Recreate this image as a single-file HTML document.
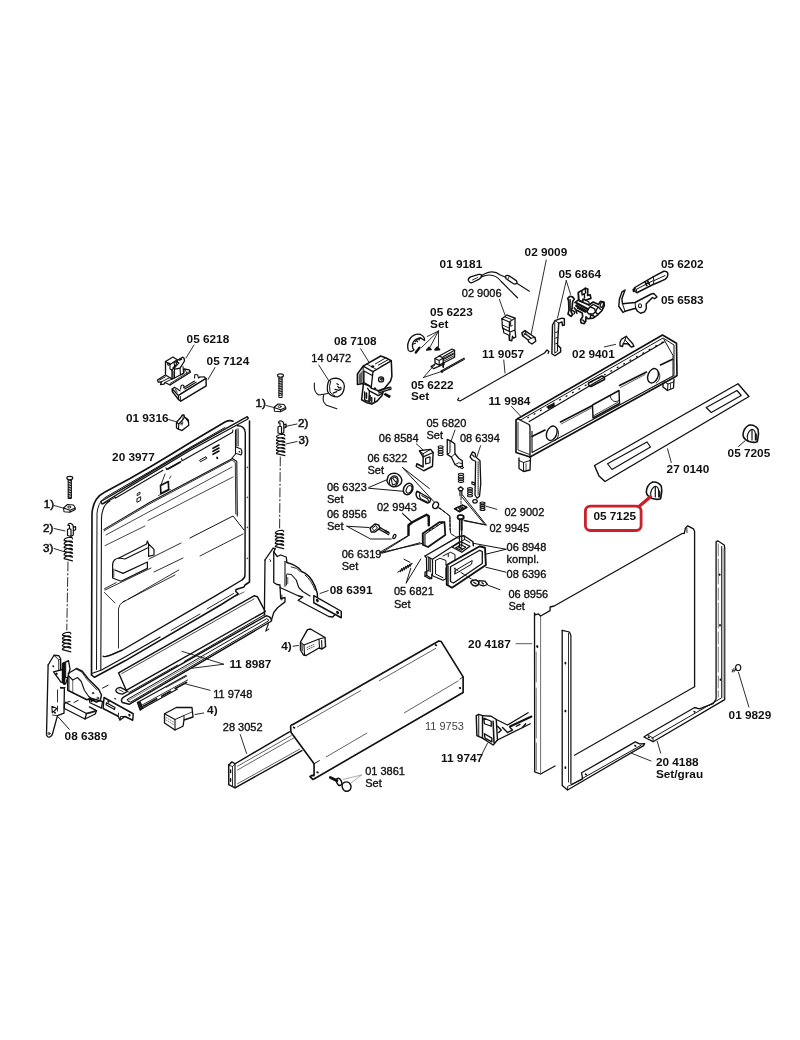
<!DOCTYPE html>
<html><head><meta charset="utf-8"><title>Explosionszeichnung</title>
<style>
html,body{margin:0;padding:0;background:#fff;}
body{width:800px;height:1040px;overflow:hidden;}
svg{display:block;will-change:transform;}
svg text{font-family:"Liberation Sans",sans-serif;fill:#111;}
svg text.r{stroke:#111;stroke-width:0.35px;}
svg text.m{stroke:#111;stroke-width:0.55px;font-size:11.6px;}
svg text.g{fill:#444;}
.d path,.d line,.d circle,.d ellipse,.d rect,.d polyline{fill:none;stroke:#111;stroke-linecap:round;stroke-linejoin:round;}
</style></head><body>
<svg width="800" height="1040" viewBox="0 0 800 1040">
<rect width="800" height="1040" fill="#fff" stroke="none"/>
<g class="d">
<g transform="translate(0 0) scale(1.00000)">
<path d="M91.5,675 L92,514 C92.5,503 97,496 105,492 L130,478.5 L150,467 L170,455 L190,442.8 L225,422 C228,420.5 231,420.3 233,421.2" stroke-width="1.65"/>
<path d="M237.2,425.8 C241.5,425.5 245.4,428 245.3,433 L245,574.5 C245,578 244,579 242,580 L215,596.2 L122.5,650 L112,654.5 C107,656.5 104,657 103.2,656.2" stroke-width="1.43"/>
<path d="M91.5,675 L94.5,677.3 L125,660.8 L220.5,605 L238.2,593.8 L235.8,591.5 L236,589.5 L244,587 L245,585 L249.5,582 L249.5,421" stroke-width="1.54"/>
<path d="M91.8,673.5 L101.5,670 L125,657 L160,637" stroke-width="1.32"/>
<path d="M171,630.5 L200,614" stroke-width="0.88"/>
<path d="M207,609 L233.5,593.5" stroke-width="0.88"/>
<path d="M96.5,669.5 L97,513 C98,504 102,499.5 106,497 L130,483 L150,471.5 L170,459.5 L190,447.5 L225,427.5" stroke-width="0.99"/>
<path d="M100.8,670 L101.5,518 C102,508 105,503.5 110,501" stroke-width="1.10"/>
<path d="M100.8,501.5 L102,504 L130,486.5 L190,450.5 L247,419.5 L248.4,418.3 L247.3,416.6 L190,448.6 L130,484.6 L100.8,501.5" stroke-width="1.32"/>
<path d="M114.5,496.3 L115.2,498.3 L163,470.3" stroke-width="1.10"/>
<path d="M103,504 L114,498" stroke-width="0.99"/>
<path d="M166,467.8 L166.6,469.6 L181,461.6" stroke-width="1.10"/>
<path d="M181.5,458.8 L182.2,460.8 L232.6,432.2 L232.8,430" stroke-width="1.10"/>
<path d="M168,469 L180,462.3" stroke-width="1.76"/>
<path d="M235.5,430 L235.5,454 L232,458" stroke-width="1.10"/>
<path d="M238.2,429 L238.2,446" stroke-width="0.88"/>
<path d="M236.8,429 L236.8,446" stroke-width="0.88"/>
<path d="M236,447 L241,449 Q242.8,452 241,455 L236.5,453.5 " stroke-width="1.10"/>
<path d="M239.2,451.5 l0.6,0.6" stroke-width="1.10"/>
<path d="M213,448.3 l6,-3.2 M213,451.3 l6,-3.2 M213,454.3 l6,-3.2" stroke-width="1.65"/>
<path d="M200,460 l6,-3.3 l0.8,1.6 l-6,3.3 z" stroke-width="0.99"/>
<path d="M217,457.5 l0.4,0.8" stroke-width="1.76"/>
<path d="M160.5,485.5 l7.8,-4 l0.4,8 l-7.8,4 z" stroke-width="1.65"/>
<path d="M158.5,495.5 l12,-6" stroke-width="0.77"/>
<path d="M165,474 l-4,11" stroke-width="0.88"/>
<path d="M171,476 l-1.4,2.4" stroke-width="0.77"/>
<path d="M137.5,493.5 l2.5,-1.4 l0,2 l-2.5,1.4 z" stroke-width="0.88"/>
<path d="M137.3,498.5 l3.4,-1.8 l0,3.6 l-3.4,1.8 z" stroke-width="0.99"/>
<path d="M104,529.4 L150,502.3 L232.5,458.5 L236.8,461.5 L237.3,516" stroke-width="1.10"/>
<path d="M104,530.8 L150,503.7 L232,460 L235.3,462.5 L235.8,514" stroke-width="0.88"/>
<path d="M105,545.6 L145,526" stroke-width="0.77"/>
<path d="M148,520.5 L233,477" stroke-width="0.77"/>
<path d="M190,538 L233,516 L244,530" stroke-width="0.99"/>
<path d="M200,556 L243,534" stroke-width="0.88"/>
<path d="M149,559 L181,543" stroke-width="0.88"/>
<path d="M154,572 L183,558" stroke-width="0.88"/>
<path d="M105,590 L151,568" stroke-width="0.88"/>
<path d="M123,602 L175,575" stroke-width="0.88"/>
<path d="M104.4,588.8 L116.2,582.5" stroke-width="0.88"/>
<path d="M104.4,592.5 L115,603" stroke-width="0.88"/>
<path d="M118.5,648 L118.5,609 Q119,604 123,602 L125.6,600.6" stroke-width="0.88"/>
<path d="M128,599.3 L178.8,570" stroke-width="0.88"/>
<path d="M106,535 L232,467" stroke-width="0.77"/>
<path d="M236,596 L244,592" stroke-width="0.66"/>
<path d="M112.6,565 L112.6,578 L121,581.2 L147.4,568.4 L147.4,562 L123,573.4 L115,570" stroke-width="1.21"/>
<path d="M112.6,565 C113,560 115,559 119,558 L125,559 L147.4,548" stroke-width="1.21"/>
<path d="M119,558 L146.6,544 L147.4,541 L148.6,544 L154,549.4 L154,555 L148.6,556.4 L148.6,544" stroke-width="1.21"/>
<path d="M113.8,569 L113.8,577" stroke-width="0.77"/>
<path d="M247.3,467 l0,0.6 M247.3,497 l0,0.6 M247.3,527 l0,0.6 M247.3,558 l0,0.6" stroke-width="1.10"/>
</g>
<g transform="translate(0 0) scale(1.00000)">
<path d="M534.5,613.2 L534.7,771.8 L540.6,774 L555,766" stroke-width="1.32"/>
<path d="M540.6,616 L540.6,774" stroke-width="0.77" style="stroke:#444"/>
<path d="M534.5,613.2 L535.2,614.8 L538.4,613.9 L540.6,616 L550.1,610.6 L550.1,607 L554.2,606 L681.7,533.7 L684.3,533.4" stroke-width="1.32"/>
<path d="M684.3,533.4 L685.4,528.1 L687.7,525.8 L693.5,528.8 L694.6,531.5 L694.6,686.5" stroke-width="1.32"/>
<path d="M686.8,528 L687,532.5" stroke-width="0.88"/>
<path d="M694.6,686.7 L574.5,755.2" stroke-width="1.10"/>
<path d="M536.2,652 L536.4,770" stroke-width="0.55" stroke-dasharray="30 6 50 5"/>
<path d="M537,646 l0.5,1" stroke-width="1.76"/>
</g>
<g transform="translate(0 0) scale(1.00000)">
<path d="M562.2,630.4 L562.2,785.6 L567.5,790 L643.6,745.6 L644.6,743.6 L639.6,743.9 L635.2,741.9 L581.6,772.8 L582.6,779 L571.5,784.6" stroke-width="1.32"/>
<path d="M562.2,630.4 L569.5,632 L570.9,635.5 L570.9,783.5" stroke-width="1.21"/>
<path d="M568.5,633 L568.5,782" stroke-width="0.88"/>
<path d="M571.5,784.6 L641.2,745.2" stroke-width="0.99"/>
<path d="M567.5,790 L567.6,786.5 L571.5,784.6" stroke-width="0.88"/>
<path d="M565.4,662.7 l0,0.8 M565.4,710.6 l0,0.8 M565.4,767.3 l0,0.8" stroke-width="1.87"/>
<path d="M585.6,774.2 l0.6,0.5 M635,745.5 l0.6,0.5" stroke-width="1.65"/>
<path d="M631.5,753.2 L651,761" stroke-width="0.88"/>
</g>
<g transform="translate(0 0) scale(1.00000)">
<path d="M716.1,541.9 L716.1,699 L713.1,703.6 L699.3,708.9 L694.7,707.5 L647.3,734.7 L643.9,737 L653.1,741.7 L724.7,699.6 L724.7,547.8 L724.2,545 L717.7,540.8 L716.1,541.9" stroke-width="1.32"/>
<path d="M721.7,546.5 L721.7,697.8 L651.9,738.3" stroke-width="0.99"/>
<path d="M718.3,544 L718.3,697" stroke-width="0.55" stroke-dasharray="12 3 25 4"/>
<path d="M723.2,549 L723.2,697" stroke-width="2.20" style="stroke:#b5b5b5"/>
<path d="M653.1,741.7 L653,738 L647.3,734.7" stroke-width="0.88"/>
<path d="M719.6,574.3 l0,0.6 M720,625 l0,0.6 M720.5,679.3 l0,0.6" stroke-width="1.76"/>
<path d="M694.2,711.6 l0.5,0.4 M648.5,737 l0.5,0.4" stroke-width="1.65"/>
<path d="M657.2,741.2 L660.7,753.2" stroke-width="0.88"/>
<path d="M738.5,672.4 L748.9,707" stroke-width="0.88"/>
</g>
<ellipse cx="738.2" cy="667.6" rx="2.6" ry="3.1" stroke-width="1.1"/><path d="M736.5,669 l-4.5,2.6 M735,668 l0.8,2.6 M733.6,668.8 l0.8,2.6 M732.2,669.6 l0.8,2.6" stroke-width="0.8"/>
<g transform="translate(505 320) scale(0.25000)">
<path d="M44,400 L52,394 L630,60 L686,93 L688,222 L678,229 L100,548 L44,530 Z" stroke-width="6.60"/>
<path d="M97,406 L636,88" stroke-width="5.28"/>
<path d="M52,396 L96,418 Q101,424 100,432 L100,548" stroke-width="5.28"/>
<path d="M52,410 L52,520 L98,538" stroke-width="3.52"/>
<path d="M636,78 L672,142 L672,224" stroke-width="3.96"/>
<path d="M108,445 L108,530 L672,224" stroke-width="4.40"/>
<path d="M62,400 L632,72 L676,100 L676,222" stroke-width="3.96"/>
<path d="M108,466 L160,440" stroke-width="6.60"/>
<path d="M222,408 L348,343" stroke-width="6.60"/>
<path d="M458,262 L566,208" stroke-width="6.60"/>
<path d="M622,180 L670,157" stroke-width="6.60"/>
<path d="M225,416 L345,352" stroke-width="2.64"/>
<path d="M462,270 L560,218" stroke-width="2.64"/>
<path d="M350,340 L456,282 L458,334 L352,392 Z" stroke-width="5.72"/>
<path d="M420,302 C425,325 440,332 456,322" stroke-width="3.96"/>
<path d="M352,384 L450,330" stroke-width="3.08"/>
<path d="M334,252 L388,224 Q400,226 398,238 L344,266 Q332,264 334,252 Z" stroke-width="6.16"/>
<path d="M172,346 L194,336 L196,343 L174,353 Z" stroke-width="7.04"/>
<path d="M56,552 L56,594 L74,606 L100,600 L102,548" stroke-width="5.28"/>
<path d="M74,606 L74,570 L56,562" stroke-width="3.96"/>
<path d="M74,570 L100,562" stroke-width="3.96"/>
<path d="M84,575 L84,600" stroke-width="3.08"/>
<path d="M632,252 L632,268 L650,282 L674,272 L676,238" stroke-width="5.28"/>
<path d="M650,282 L652,256 L636,246" stroke-width="3.96"/>
<path d="M652,256 L674,248" stroke-width="3.96"/>
<path d="M662,255 L662,276" stroke-width="3.08"/>
<path d="M91.0,391.0 l3,-1.6 M116.6,376.7 l3,-1.6 M142.1,362.3 l3,-1.6 M167.7,348.0 l3,-1.6 M193.3,333.7 l3,-1.6 M218.9,319.3 l3,-1.6 M244.4,305.0 l3,-1.6 M270.0,290.7 l3,-1.6 M295.6,276.3 l3,-1.6 M321.1,262.0 l3,-1.6 M346.7,247.7 l3,-1.6 M372.3,233.3 l3,-1.6 M397.9,219.0 l3,-1.6 M423.4,204.7 l3,-1.6 M449.0,190.3 l3,-1.6 M474.6,176.0 l3,-1.6 M500.1,161.7 l3,-1.6 M525.7,147.3 l3,-1.6 M551.3,133.0 l3,-1.6 M576.9,118.7 l3,-1.6 M602.4,104.3 l3,-1.6 M628.0,90.0 l3,-1.6" stroke-width="5.28"/>
<ellipse cx="187" cy="453" rx="20" ry="30" stroke-width="5.6" transform="rotate(22 187 453)"/><path d="M206,432 C220,446 216,472 200,482" stroke-width="3.6"/>
<ellipse cx="592" cy="223" rx="20" ry="30" stroke-width="5.6" transform="rotate(22 592 223)"/><path d="M611,202 C625,216 621,242 605,252" stroke-width="3.6"/>
<path d="M26,346 L62,384" stroke-width="3.52"/>
</g>
<g transform="translate(585 370) scale(0.25000)">
<path d="M38,382 L612,55 L656,106 L80,446 L56,424 Z" stroke-width="5.72"/>
<path d="M55,418 L622,92" stroke-width="0.00"/>
<path d="M90,375 L248,288 L262,308 L108,398 Z" stroke-width="4.84"/>
<path d="M485,150 L608,82 L625,102 L505,170 Z" stroke-width="4.84"/>
<path d="M330,315 L345,370" stroke-width="3.52"/>
</g>
<g transform="translate(220 630) scale(0.31250)">
<path d="M232,303 L700,35 L708,37 L778,150 L778,200 L302,476 L297,478 L288,469 L295,465 L301,466 L301,428 L227,327 L226,309 Q226,304 232,303 Z" stroke-width="5.28"/>
<path d="M301,428 L318,418" stroke-width="3.17"/>
<path d="M340,406 L470,330" stroke-width="2.11"/>
<path d="M590,265 L762,163" stroke-width="2.11"/>
<path d="M778,150 L768,157" stroke-width="2.82"/>
<path d="M248,310 L450,194" stroke-width="2.11"/>
<path d="M510,162 L690,59" stroke-width="2.11"/>
<path d="M236,312 l2,1 M690,48 l2,1 M767,185 l2,1 M311,455 l2,1" stroke-width="5.63"/>
<path d="M28,432 L38,422 L48,428 L222,326" stroke-width="4.58"/>
<path d="M28,432 L28,495 L48,505 L262,386" stroke-width="4.58"/>
<path d="M48,428 L48,505" stroke-width="3.87"/>
<path d="M28,432 L40,437 L48,428" stroke-width="2.82"/>
<path d="M40,437 L40,500" stroke-width="2.82"/>
<path d="M56,436 L228,338" stroke-width="2.11"/>
<path d="M56,448 L240,343" stroke-width="2.11"/>
<path d="M56,492 L255,381" stroke-width="2.11"/>
<path d="M34,448 l0,8 M34,476 l0,8" stroke-width="4.22"/>
<path d="M65,335 L85,395" stroke-width="2.82"/>
<path d="M453,464 L394,478 M453,464 L420,489" stroke-width="1.76" style="stroke:#666"/>
<path d="M353,472 L374,482" stroke-width="9.15"/>
<path d="M350,470 l3,-5 M356,474 l4,-6 M362,476 l4,-6 M368,479 l4,-6" stroke-width="0.00"/>
<ellipse cx="381" cy="486" rx="7.5" ry="12" stroke-width="4.6" transform="rotate(-25 381 486)"/>
<ellipse cx="405" cy="501" rx="14" ry="15" stroke-width="4.8" transform="rotate(-20 405 501)"/>
</g>
<g transform="translate(110 585) scale(0.22502)">
<path d="M38,390 L640,48 L655,52 L690,118 L72,468 Z" stroke-width="6.35"/>
<path d="M52,394 L640,62" stroke-width="3.42"/>
<path d="M72,468 L46,455 Q26,458 26,470 Q30,482 55,485 L80,472" stroke-width="5.87"/>
<path d="M40,466 L58,474" stroke-width="3.42"/>
<path d="M84,478 L300,356" stroke-width="4.40"/>
<path d="M330,340 L690,130" stroke-width="4.40"/>
<path d="M62,497 L694,137 Q716,140 718,160 L85,530 L55,522 Q44,510 62,497 Z" stroke-width="6.35"/>
<path d="M78,508 L696,150 Q706,152 704,160 L92,520 Q74,518 78,508 Z" stroke-width="4.40"/>
<path d="M80,514 L420,318" stroke-width="2.44"/>
<path d="M704,172 L692,205 L706,196" stroke-width="4.89"/>
<path d="M122,522 L134,520 L146,548 L134,556 Z" stroke-width="5.87" style="fill:#222"/>
<path d="M128,519 L338,402" stroke-width="4.89"/>
<path d="M146,548 L300,462" stroke-width="4.89"/>
<path d="M138,536 L345,422" stroke-width="3.91"/>
<path d="M150,538 l60,-34 M230,494 l40,-22 M290,460 l50,-27" stroke-width="7.82" stroke-dasharray="1.8 5.3"/>
<path d="M250,455 L342,405" stroke-width="2.93"/>
<path d="M505,352 L320,295 M505,352 L365,370" stroke-width="3.91"/>
<path d="M445,468 L330,438" stroke-width="3.91"/>
</g>
<g transform="translate(40 600) scale(0.25000)">
<path d="M498,455 L545,430 L608,430 L612,468 L576,480 L572,505 L540,520 L498,492 Z" stroke-width="5.28"/>
<path d="M498,455 L540,478 L540,520" stroke-width="4.40"/>
<path d="M540,478 L576,462 L576,480" stroke-width="3.96"/>
<path d="M576,462 L608,448" stroke-width="3.08"/>
<path d="M545,430 L580,452" stroke-width="0.00"/>
<path d="M504,470 l30,18 M504,480 l30,18" stroke-width="2.20" stroke-dasharray="4 6.0"/>
<path d="M620,458 L655,452" stroke-width="3.52"/>
</g>
<g transform="translate(40 640) scale(0.12500)">
<path d="M65,200 L112,122 L150,125 L165,150 L165,240" stroke-width="10.56"/>
<path d="M65,200 L52,755 Q58,782 80,775 Q95,770 100,750 L140,605 L192,585 L195,385 L165,380" stroke-width="10.56"/>
<path d="M112,122 L150,160 L150,240" stroke-width="7.04"/>
<path d="M150,160 L165,150" stroke-width="6.16"/>
<path d="M140,400 L140,590" stroke-width="7.04" stroke-dasharray="96 32 40 32"/>
<path d="M95,530 L135,548 L98,582 Z" stroke-width="8.80"/>
<path d="M100,600 L135,605" stroke-width="7.04"/>
<path d="M118,580 l3,3" stroke-width="13.20"/>
<path d="M104,208 l4,4" stroke-width="12.32"/>
<path d="M108,255 L180,236 L186,185 L228,165 L240,232 L222,300 L205,352 L165,335 L150,312 Z" stroke-width="10.56"/>
<path d="M182,190 L182,330 M192,185 L192,340" stroke-width="15.84"/>
<path d="M205,180 L205,300" stroke-width="8.80"/>
<path d="M215,300 L200,300 L195,350" stroke-width="8.80"/>
<path d="M130,268 l5,4 M188,345 l6,8" stroke-width="14.08"/>
<path d="M165,385 L200,380" stroke-width="8.80"/>
<path d="M225,268 L292,228 L338,250 L385,310 L470,395 L492,440 L482,482 L452,497 L395,470 L375,478 L222,402 L222,300" stroke-width="11.44"/>
<path d="M232,290 L262,320 L300,300 L330,332 L355,402 L388,450 L450,495" stroke-width="8.80"/>
<path d="M232,290 L232,400" stroke-width="7.04"/>
<path d="M262,320 L262,420" stroke-width="5.28"/>
<path d="M290,232 L335,258 L375,315 L455,400" stroke-width="6.16"/>
<path d="M500,385 L545,362" stroke-width="7.92"/>
<path d="M272,500 L305,482" stroke-width="7.92"/>
<path d="M205,500 L372,588 L452,565 L395,535" stroke-width="10.56"/>
<path d="M205,500 L195,512 L195,548 L360,632 L372,588" stroke-width="10.56"/>
<path d="M360,632 L442,592 L452,565" stroke-width="10.56"/>
<path d="M205,500 L240,492" stroke-width="8.80"/>
<path d="M385,590 L440,575" stroke-width="5.28"/>
<path d="M512,460 L746,590 L742,642 L680,612 L640,640 L625,610 L505,548 Z" stroke-width="11.44"/>
<path d="M625,610 L628,585 M640,640 L645,612 L680,612" stroke-width="7.92"/>
<path d="M532,502 L600,540 L596,556 L528,518 Z" stroke-width="8.80"/>
<path d="M392,472 Q395,463 405,466 L500,492 L492,545 L400,502 Z" stroke-width="10.56"/>
<path d="M714,598 l3,5 M546,490 l3,4 M410,486 l3,4" stroke-width="15.84"/>
<path d="M598,468 l8,4" stroke-width="8.80"/>
<path d="M145,615 L235,715" stroke-width="7.92"/>
<circle cx="72" cy="748" r="8" stroke-width="7"/><circle cx="424" cy="425" r="6" stroke-width="7"/><circle cx="462" cy="465" r="7" stroke-width="7"/>
</g>
<g transform="translate(255 525) scale(0.12500)">
<path d="M80,280 L145,185 L162,190 L150,215 L150,460 L175,476 L200,480 L205,590 L240,580 L240,615 L182,660 L150,700 L132,760" stroke-width="10.56"/>
<path d="M80,280 L75,720" stroke-width="10.56"/>
<path d="M150,215 L178,252 L205,240 L250,256 L255,300" stroke-width="10.56"/>
<path d="M118,275 Q128,278 124,292" stroke-width="7.92"/>
<path d="M215,560 L215,600" stroke-width="7.92"/>
<path d="M255,300 L300,315 Q360,345 372,372 L400,385 Q470,430 498,545 L500,575" stroke-width="11.44"/>
<path d="M290,335 Q340,340 362,372" stroke-width="7.04"/>
<path d="M400,400 Q450,440 480,520" stroke-width="7.04"/>
<path d="M415,395 Q465,440 492,530" stroke-width="5.28"/>
<path d="M240,290 L240,490" stroke-width="8.80"/>
<path d="M252,400 L252,480" stroke-width="7.04"/>
<path d="M262,420 L262,470" stroke-width="5.28"/>
<path d="M255,392 L290,396 L330,440 L350,500 L382,532 L440,568" stroke-width="8.80"/>
<path d="M200,500 L345,566 L382,576 L345,602 L590,732 L622,736 L640,716" stroke-width="10.56"/>
<path d="M470,565 L690,690 L690,742 L470,622 Z" stroke-width="11.44"/>
<path d="M496,600 l5,8 M658,696 l5,8" stroke-width="19.36"/>
<path d="M520,548 L585,525" stroke-width="7.04"/>
</g>
<g transform="translate(0 0) scale(1.00000)">
<path d="M278.9,377.0 L278.9,397.5 L282.1,397.5 L282.1,377.0 M278.9,378.5 L282.1,377.8 M278.9,380.2 L282.1,379.5 M278.9,381.9 L282.1,381.2 M278.9,383.6 L282.1,382.9 M278.9,385.3 L282.1,384.6 M278.9,387.0 L282.1,386.3 M278.9,388.7 L282.1,388.0 M278.9,390.4 L282.1,389.7 M278.9,392.1 L282.1,391.4 M278.9,393.8 L282.1,393.1 M278.9,395.5 L282.1,394.8" stroke-width="0.99"/>
<ellipse cx="280.5" cy="375.6" rx="3" ry="1.7" stroke-width="1.1"/>
<path d="M274.0,407.5 L278.0,404.0 L284.0,404.5 L285.8,407.5 L280.5,409.7 L274.0,407.5 L274.5,411.3 L280.5,411.7 L280.5,409.7 M280.5,411.7 L285.8,409.1 L285.8,407.5" stroke-width="1.10"/>
<ellipse cx="279.7" cy="406.6" rx="1.5" ry="1" stroke-width="0.9"/>
<path d="M278.5,423 Q278.5,420.5 281.5,421 Q284.0,422 283.8,425 L283.8,432.5 L281.5,434 L278.0,433 L278.0,427 L280.0,426 L280.0,423 Z M280.0,426 L281.5,427 L281.5,434 M283.8,424.8 L286.1,424.2 L286.1,427.2 L283.8,428.2" stroke-width="1.21"/>
<path d="M276.5,437.0 C276.5,434.7 284.9,433.0 284.9,435.7 M276.5,437.0 L284.9,439.0 M276.5,440.3 C276.5,438.0 284.9,436.3 284.9,439.0 M276.5,440.3 L284.9,442.3 M276.5,443.7 C276.5,441.3 284.9,439.7 284.9,442.3 M276.5,443.7 L284.9,445.7 M276.5,447.0 C276.5,444.7 284.9,443.0 284.9,445.7 M276.5,447.0 L284.9,449.0 M276.5,450.3 C276.5,448.0 284.9,446.3 284.9,449.0 M276.5,450.3 L284.9,452.3 M276.5,453.7 C276.5,451.3 284.9,449.7 284.9,452.3 M276.5,453.7 L284.9,455.7" stroke-width="1.21"/>
<path d="M266,405.5 L274,407.5" stroke-width="0.88"/>
<path d="M285,426.5 L297,424" stroke-width="0.88"/>
<path d="M286,444 L297,441.5" stroke-width="0.88"/>
<path d="M280.3,457 L279.6,528" stroke-width="0.88" stroke-dasharray="9 2.5 1.5 2.5"/>
<path d="M275.3,533.1 C275.3,530.7 283.7,529.0 283.7,531.7 M275.3,533.1 L283.7,535.1 M275.3,536.5 C275.3,534.1 283.7,532.4 283.7,535.1 M275.3,536.5 L283.7,538.5 M275.3,539.9 C275.3,537.5 283.7,535.8 283.7,538.5 M275.3,539.9 L283.7,541.9 M275.3,543.3 C275.3,540.9 283.7,539.2 283.7,541.9 M275.3,543.3 L283.7,545.3 M275.3,546.7 C275.3,544.3 283.7,542.6 283.7,545.3 M275.3,546.7 L283.7,548.7" stroke-width="1.21"/>
<path d="M68.2,479.5 L68.2,498.5 L71.4,498.5 L71.4,479.5 M68.2,481.0 L71.4,480.3 M68.2,482.7 L71.4,482.0 M68.2,484.4 L71.4,483.7 M68.2,486.1 L71.4,485.4 M68.2,487.8 L71.4,487.1 M68.2,489.5 L71.4,488.8 M68.2,491.2 L71.4,490.5 M68.2,492.9 L71.4,492.2 M68.2,494.6 L71.4,493.9 M68.2,496.3 L71.4,495.6 M68.2,498.0 L71.4,497.3" stroke-width="0.99"/>
<ellipse cx="69.8" cy="478.1" rx="3" ry="1.7" stroke-width="1.1"/>
<path d="M63.5,508.0 L67.5,504.5 L73.5,505.0 L75.3,508.0 L70.0,510.2 L63.5,508.0 L64.0,511.8 L70.0,512.2 L70.0,510.2 M70.0,512.2 L75.3,509.6 L75.3,508.0" stroke-width="1.10"/>
<ellipse cx="69.2" cy="507.1" rx="1.5" ry="1" stroke-width="0.9"/>
<path d="M68,525.5 Q68,523.0 71,523.5 Q73.5,524.5 73.3,527.5 L73.3,535.0 L71,536.5 L67.5,535.5 L67.5,529.5 L69.5,528.5 L69.5,525.5 Z M69.5,528.5 L71,529.5 L71,536.5 M73.3,527.3 L75.6,526.7 L75.6,529.7 L73.3,530.7" stroke-width="1.21"/>
<path d="M64.1,540.3 C64.1,537.7 72.5,535.9 72.5,538.8 M64.1,540.3 L72.5,542.5 M64.1,544.0 C64.1,541.4 72.5,539.6 72.5,542.5 M64.1,544.0 L72.5,546.2 M64.1,547.6 C64.1,545.1 72.5,543.2 72.5,546.2 M64.1,547.6 L72.5,549.8 M64.1,551.3 C64.1,548.7 72.5,546.9 72.5,549.8 M64.1,551.3 L72.5,553.5 M64.1,555.0 C64.1,552.4 72.5,550.6 72.5,553.5 M64.1,555.0 L72.5,557.2 M64.1,558.6 C64.1,556.1 72.5,554.2 72.5,557.2 M64.1,558.6 L72.5,560.8" stroke-width="1.21"/>
<path d="M54,505.5 L63,508" stroke-width="0.88"/>
<path d="M54,528.5 L65,531" stroke-width="0.88"/>
<path d="M54,548.5 L63.5,551.5" stroke-width="0.88"/>
<path d="M68,562 L66.8,630" stroke-width="0.88" stroke-dasharray="9 2.5 1.5 2.5"/>
<path d="M62.4,635.2 C62.4,632.7 70.8,630.9 70.8,633.8 M62.4,635.2 L70.8,637.4 M62.4,638.8 C62.4,636.3 70.8,634.5 70.8,637.4 M62.4,638.8 L70.8,641.0 M62.4,642.4 C62.4,639.9 70.8,638.1 70.8,641.0 M62.4,642.4 L70.8,644.6 M62.4,646.0 C62.4,643.5 70.8,641.7 70.8,644.6 M62.4,646.0 L70.8,648.2 M62.4,649.6 C62.4,647.1 70.8,645.3 70.8,648.2 M62.4,649.6 L70.8,651.8" stroke-width="1.21"/>
</g>
<g transform="translate(140 345) scale(0.10000)">
<path d="M255,165 L330,120 L372,148 L300,195 Z" stroke-width="13.20"/>
<path d="M255,165 L255,300 L320,340 L320,250" stroke-width="13.20"/>
<path d="M300,195 L300,240 L320,250" stroke-width="11.00"/>
<path d="M275,190 Q285,175 298,185 M275,190 Q278,205 292,200" stroke-width="11.00"/>
<path d="M378,150 L425,122 Q445,125 445,160 L420,200 L400,232 L350,242 L330,230 L360,200 Z" stroke-width="13.20"/>
<path d="M340,180 L365,165 L390,180 L350,225 Z" stroke-width="11.00"/>
<path d="M395,150 l20,-10" stroke-width="16.50"/>
<path d="M320,250 L345,225 L345,330 M330,260 L330,335" stroke-width="11.00"/>
<path d="M400,232 L405,300 M430,215 L435,285 L405,300" stroke-width="11.00"/>
<path d="M320,340 L345,330 L440,280 L440,240" stroke-width="12.10"/>
<path d="M245,305 L175,350 L183,372 L215,368 L205,395 L240,392 L250,375 L300,400 L505,272 L492,248 L440,240" stroke-width="13.20"/>
<path d="M195,350 L255,318 M215,368 L300,325 M250,375 L330,335" stroke-width="9.90"/>
<path d="M300,400 L300,385 L500,262" stroke-width="8.80"/>
<path d="M455,255 L470,285" stroke-width="8.80"/>
<path d="M460,130 L540,0" stroke-width="8.80"/>
<path d="M385,505 L660,335 L662,408 L408,562 L385,545 Z" stroke-width="14.30"/>
<path d="M322,440 L385,505 M322,440 L322,465 L385,545" stroke-width="13.20"/>
<path d="M322,440 L345,422 L400,458" stroke-width="12.10"/>
<path d="M400,490 L650,338" stroke-width="9.90"/>
<path d="M405,515 L405,560" stroke-width="8.80"/>
<path d="M440,425 L545,360 M448,440 L560,372" stroke-width="11.00"/>
<path d="M405,440 L412,405 Q425,395 438,405 L440,430" stroke-width="11.00"/>
<path d="M545,330 L548,298 Q562,290 578,300 L585,330 L600,320" stroke-width="11.00"/>
<path d="M600,320 L640,318 L660,335" stroke-width="12.10"/>
<path d="M350,440 L372,470" stroke-width="8.80"/>
<path d="M680,345 L750,225" stroke-width="8.80"/>
<path d="M365,772 L410,722 L420,702 L440,700 L446,722 L482,748 L488,802 L420,856 L385,842 L365,830 Z" stroke-width="13.20"/>
<path d="M385,842 L388,790 L365,772 M388,790 L430,745 L446,722" stroke-width="11.00"/>
<path d="M430,745 L432,700" stroke-width="8.80"/>
<path d="M420,760 l0,40 M405,790 l25,-10" stroke-width="8.80"/>
<path d="M462,735 l15,20" stroke-width="17.60"/>
<path d="M285,745 L355,765" stroke-width="8.80"/>
</g>
<g transform="translate(305 345) scale(0.12500)">
<path d="M185,300 Q200,265 250,265 Q312,275 315,332 Q310,400 260,415 Q200,415 180,370 Q175,330 185,300 Z" stroke-width="10.56"/>
<path d="M205,290 Q190,330 200,375 Q215,400 240,408" stroke-width="7.92"/>
<path d="M255,310 l12,6 M262,330 l8,14 l18,-6 M240,355 l30,8 l20,-12 M225,385 l30,-12" stroke-width="9.68"/>
<path d="M75,305 Q68,385 112,400 L182,388" stroke-width="8.80"/>
<path d="M150,400 Q132,452 172,482 L255,510" stroke-width="8.80"/>
<path d="M110,160 L190,285" stroke-width="7.04"/>
<path d="M445,30 L510,135" stroke-width="7.04"/>
</g>
<g transform="translate(352 350) scale(0.05999)">
<path d="M90,400 L185,270 L480,100 L560,130 L655,180 L665,440 L640,520 L540,640 L440,680 L330,640 L290,600 L190,560 L90,575 Z" stroke-width="25.67"/>
<path d="M185,270 L350,360 L655,180" stroke-width="22.00"/>
<path d="M350,360 L320,630" stroke-width="22.00"/>
<path d="M185,270 L190,560" stroke-width="18.34"/>
<path d="M200,350 L340,425 M200,350 L200,540 L300,600" stroke-width="20.17"/>
<path d="M390,232 L560,132 M440,252 L610,158 M480,276 L650,188" stroke-width="16.50"/>
<path d="M250,235 L400,320" stroke-width="14.67"/>
<path d="M120,410 L120,545 M135,395 L135,550 M150,380 L150,555 M165,360 L165,560" stroke-width="12.84"/>
<path d="M190,570 L160,830 L250,880 L330,902 L420,850 L500,760 L520,700" stroke-width="25.67"/>
<path d="M210,700 L210,830 L300,870 M260,640 L290,680 L440,760 L500,720" stroke-width="22.00"/>
<path d="M290,680 L280,860 M330,790 L330,880 M380,800 L375,870" stroke-width="22.00"/>
<path d="M240,720 L240,800 M300,760 L300,840" stroke-width="29.34"/>
<path d="M440,690 L610,625 M450,715 L620,660" stroke-width="23.84"/>
<path d="M540,740 L620,790 M555,725 L635,770 M620,790 L635,770" stroke-width="22.00"/>
<path d="M380,640 l10,8" stroke-width="33.01"/>
<circle cx="485" cy="490" r="42" stroke-width="21.7"/><circle cx="492" cy="488" r="14" stroke-width="20.0"/><ellipse cx="345" cy="275" rx="16" ry="10" stroke-width="23.3"/><ellipse cx="635" cy="640" rx="16" ry="22" stroke-width="20.0"/>
</g>
<g transform="translate(400 320) scale(0.10000)">
<path d="M245,205 Q250,165 205,145 Q150,130 105,180 Q65,235 82,300 Q100,330 140,300 Q115,270 130,225 Q155,180 215,185 Z" stroke-width="13.20"/>
<path d="M150,215 l15,-10 l10,12 M165,195 l20,-8 l8,12 M190,180 l18,-2" stroke-width="13.20"/>
<path d="M135,240 l20,-8" stroke-width="11.00"/>
<path d="M158,325 L195,278" stroke-width="24.20"/>
<path d="M268,300 L290,275 L310,295 Z M350,298 L372,272 L395,295 Z" stroke-width="17.60" style="fill:#333"/>
<path d="M385,110 L272,165 M385,110 L215,275 M385,110 L300,272 M385,110 L385,268" stroke-width="8.80"/>
<path d="M350,385 L392,360 L432,380 L432,432 L392,452 L350,430 Z" stroke-width="13.20"/>
<path d="M350,385 L392,405 L432,380 M392,405 L392,452" stroke-width="11.00"/>
<path d="M392,360 L520,290 L546,302 L432,368" stroke-width="12.10"/>
<path d="M432,395 L546,335 L546,372 L440,428" stroke-width="12.10"/>
<path d="M546,302 L546,335" stroke-width="11.00"/>
<path d="M440,380 L535,330 M440,410 L540,358" stroke-width="8.80"/>
<path d="M355,438 L310,465 L336,486 L445,440" stroke-width="12.10"/>
<path d="M320,470 L345,455" stroke-width="8.80"/>
<path d="M432,432 L432,470" stroke-width="17.60"/>
<path d="M415,508 L630,388 L640,382 L645,392" stroke-width="11.00"/>
<path d="M420,518 L635,398" stroke-width="11.00"/>
<path d="M412,512 l10,8" stroke-width="17.60"/>
<path d="M235,575 L315,482 M235,575 L412,516" stroke-width="8.80"/>
</g>
<g transform="translate(460 260) scale(0.12500)">
<path d="M68,165 Q60,150 85,135 L150,115 Q175,112 172,130 Q168,145 150,155 L95,182 Q75,185 68,165 Z" stroke-width="10.56"/>
<path d="M100,160 L140,140" stroke-width="7.04"/>
<path d="M172,125 Q260,68 322,120 L365,138" stroke-width="9.68"/>
<path d="M170,135 Q270,92 330,172 L460,302" stroke-width="9.68"/>
<path d="M368,125 Q385,120 395,128 L450,165 Q462,180 450,190 Q438,195 425,188 L370,150 Q358,138 368,125 Z" stroke-width="10.56"/>
<path d="M395,128 L385,150" stroke-width="7.04"/>
<path d="M458,188 L555,250" stroke-width="8.80"/>
<path d="M315,315 L360,440" stroke-width="7.04"/>
<path d="M335,470 L375,440 L440,465 L440,560 L400,576 L395,640 L415,646 L420,610 L430,626 L446,615 L440,560" stroke-width="10.56"/>
<path d="M335,470 L395,496 L440,465 M335,470 L340,545 L395,572 L395,496" stroke-width="9.68"/>
<path d="M345,545 L350,582 L392,602 L395,640" stroke-width="9.68"/>
<path d="M360,455 L410,475 M405,500 L405,530 L418,525" stroke-width="7.92"/>
<path d="M340,520 L395,545" stroke-width="7.04"/>
<path d="M495,582 L520,565 L600,620 L606,650 L576,672 L550,656 L545,640 L500,606 Z" stroke-width="11.44"/>
<path d="M520,565 L528,590 L500,606 M545,640 L570,625 L600,620 M528,590 L570,625 M510,585 L560,622" stroke-width="7.92"/>
<path d="M690,0 L570,590" stroke-width="7.04"/>
</g>
<g transform="translate(420 230) scale(0.25000)">
<path d="M155,672 L150,680 L160,684 L498,492 L508,480 L516,486 L512,494" stroke-width="4.84"/>
<path d="M335,520 L340,572" stroke-width="3.52"/>
</g>
<g transform="translate(540 270) scale(0.12500)">
<path d="M100,440 L120,405 L175,385 L195,390 L195,440 L180,445 L176,415 L150,425 L140,600 L165,625 L165,655 L120,686 L95,670 Z" stroke-width="11.44"/>
<path d="M118,425 L118,665 L140,650 L140,600" stroke-width="7.92"/>
<path d="M120,405 L150,425" stroke-width="7.04"/>
<path d="M125,500 l15,-5 M125,545 l15,-5 M125,590 l15,-5" stroke-width="7.92"/>
<path d="M210,85 L245,195 M210,85 L140,385" stroke-width="7.04"/>
<path d="M640,580 L650,555 L690,530 L702,545 L742,590 L752,610 L730,616 L700,590 L666,590 L660,612 L640,606 Z" stroke-width="10.56"/>
<path d="M690,530 L680,560 L666,590 M680,560 L720,600" stroke-width="7.92"/>
<path d="M515,615 L605,595" stroke-width="7.04"/>
</g>
<g transform="translate(610 260) scale(0.12500)">
<path d="M195,222 L345,135 L430,90 Q455,88 462,105 Q468,135 440,155 L380,182 L345,196 L215,262 L195,250 Z" stroke-width="11.44"/>
<path d="M345,135 L352,165 L345,196 M352,165 L440,125" stroke-width="7.92"/>
<path d="M215,262 L210,235 L195,222 M210,235 L345,165" stroke-width="7.92"/>
<path d="M185,238 L195,232 M188,250 L198,244" stroke-width="14.08"/>
<path d="M280,175 L295,205 M300,165 L315,195 M285,195 l15,-10" stroke-width="13.20"/>
<path d="M120,240 L96,255 L76,310 L70,370 L105,420 L120,410 L205,386 L220,410 L245,426 L276,415 L290,390 L290,350 L340,300 L356,310 L376,295 L350,268 L330,272 L200,340 L100,350 L95,310 Z" stroke-width="11.44"/>
<path d="M100,350 L120,410 M200,340 L205,386" stroke-width="7.92"/>
<ellipse cx="240" cy="366" rx="12" ry="16" stroke-width="8.5"/>
</g>
<g transform="translate(562 284) scale(0.05999)">
<path d="M95,240 L130,205 L175,215 L205,250 L178,290 L168,400 L150,460 L176,510 L150,540 L100,500 L116,440 L110,280 Z" stroke-width="27.51"/>
<path d="M135,260 L135,440" stroke-width="23.84"/>
<path d="M175,440 L215,470 L200,500 M235,450 L250,490" stroke-width="23.84"/>
<path d="M270,140 L330,110 L390,70 L430,85 L426,190 L470,180 L482,240 L395,272 L350,252 L345,300 L276,265 Z" stroke-width="27.51"/>
<path d="M330,110 L335,182 L372,162 L376,232 M390,70 L392,150" stroke-width="23.84"/>
<path d="M276,150 L280,260" stroke-width="20.17"/>
<path d="M215,310 L270,270 L450,350 L520,300 L610,340 L640,290 L700,300 L706,362 L660,450 L590,520 L520,570 L430,580 L400,546 L396,620 L370,660 L320,650 L310,600 L346,540 L336,482 L230,430 L205,400" stroke-width="27.51"/>
<path d="M245,320 L432,420 M236,362 L400,450 M262,398 L390,462" stroke-width="36.67"/>
<path d="M432,420 L470,380 L540,410 L560,460 L520,500 L450,500 L420,470 Z" stroke-width="23.84"/>
<path d="M470,380 L520,340 L600,380 L560,460 M600,380 L640,420" stroke-width="22.00"/>
<path d="M480,505 L472,560 M560,470 L592,500 M500,520 L540,540" stroke-width="25.67"/>
<path d="M345,600 L375,625" stroke-width="23.84"/>
<path d="M395,272 L450,300 L450,350" stroke-width="20.17"/>
<ellipse cx="664" cy="345" rx="24" ry="44" stroke-width="22" transform="rotate(20 664 345)"/>
</g>
<g transform="translate(400 430) scale(0.12500)">
<path d="M155,165 L245,155 L265,180 L260,290 L190,326 L130,292 L135,270 L185,296 L185,215 Z" stroke-width="11.44"/>
<path d="M185,215 L265,180 M205,226 L240,215 L240,262 L205,272 Z" stroke-width="9.68"/>
<path d="M155,165 L185,190 L185,215 M185,190 L245,155" stroke-width="7.92"/>
<path d="M130,110 L185,160" stroke-width="7.04"/>
<path d="M378,75 L378,195 L410,216 L440,276 L470,296 L500,290 L498,246 L470,226 L440,190 L438,110 L400,85 Z" stroke-width="10.56"/>
<path d="M400,85 L400,180 L378,195 M410,216 L430,200 L440,190" stroke-width="7.92"/>
<path d="M440,276 L470,262 L498,270" stroke-width="7.04"/>
<path d="M440,0 L410,85" stroke-width="7.04"/>
<path d="M465,470 L485,455 L506,470 L496,486 L476,486 Z" stroke-width="10.56"/>
<path d="M480,486 L480,526 M495,486 L495,526" stroke-width="9.68"/>
<path d="M488,535 L488,592" stroke-width="7.04" stroke-dasharray="24 12.0"/>
<path d="M435,630 L500,600 L530,616 L470,650 Z" stroke-width="10.56"/>
<path d="M470,625 L495,614 L505,622 L480,634 Z" stroke-width="7.04"/>
<path d="M478,715 L478,800 M495,715 L495,800" stroke-width="10.56"/>
<path d="M560,215 L580,175 L600,185 L606,215 L640,246 L646,430 L636,530 L616,546 L600,520 L605,250 L580,240 Z" stroke-width="10.56"/>
<path d="M625,255 L625,520" stroke-width="7.92" stroke-dasharray="8 8"/>
<path d="M575,415 L600,425 L596,440 L575,432 Z" stroke-width="8.80"/>
<path d="M580,200 l15,15" stroke-width="8.80"/>
<path d="M645,125 L615,215" stroke-width="7.04"/>
<path d="M690,610 L775,635" stroke-width="7.04"/>
<path d="M690,760 L500,520 M690,760 L512,722" stroke-width="7.92"/>
<path d="M20,300 L270,572" stroke-width="7.92"/>
<path d="M20,300 L235,468" stroke-width="7.92"/>
<path d="M318,622 L400,690 L400,800" stroke-width="7.92" stroke-dasharray="24 9.6"/>
<ellipse cx="325" cy="135.0" rx="20" ry="9.0" stroke-width="8.5"/>
<ellipse cx="325" cy="155.0" rx="20" ry="9.0" stroke-width="8.5"/>
<ellipse cx="325" cy="175.0" rx="20" ry="9.0" stroke-width="8.5"/>
<ellipse cx="325" cy="195.0" rx="20" ry="9.0" stroke-width="8.5"/>
<ellipse cx="488" cy="354.4" rx="22" ry="8.4" stroke-width="8.5"/>
<ellipse cx="488" cy="373.1" rx="22" ry="8.4" stroke-width="8.5"/>
<ellipse cx="488" cy="391.9" rx="22" ry="8.4" stroke-width="8.5"/>
<ellipse cx="488" cy="410.6" rx="22" ry="8.4" stroke-width="8.5"/>
<ellipse cx="560" cy="469.4" rx="20" ry="8.4" stroke-width="8.5"/>
<ellipse cx="560" cy="488.1" rx="20" ry="8.4" stroke-width="8.5"/>
<ellipse cx="560" cy="506.9" rx="20" ry="8.4" stroke-width="8.5"/>
<ellipse cx="560" cy="525.6" rx="20" ry="8.4" stroke-width="8.5"/>
<ellipse cx="660" cy="583.8" rx="20" ry="7.9" stroke-width="8.5"/>
<ellipse cx="660" cy="601.2" rx="20" ry="7.9" stroke-width="8.5"/>
<ellipse cx="660" cy="618.8" rx="20" ry="7.9" stroke-width="8.5"/>
<ellipse cx="660" cy="636.2" rx="20" ry="7.9" stroke-width="8.5"/>
<ellipse cx="495" cy="300" rx="12" ry="9" stroke-width="8"/><ellipse cx="600" cy="570" rx="18" ry="14" stroke-width="10"/><ellipse cx="484" cy="696" rx="24" ry="16" stroke-width="10"/>
<ellipse cx="285" cy="602" rx="22" ry="27" stroke-width="11" transform="rotate(25 285 602)"/>
</g>
<g transform="translate(320 460) scale(0.12500)">
<path d="M390,220 L530,160 M390,226 L665,250" stroke-width="7.92"/>
<path d="M660,430 L725,490" stroke-width="7.92"/>
<path d="M215,530 L390,540 M215,530 L405,632 L570,632" stroke-width="7.92"/>
<path d="M495,740 L700,612 M495,746 L800,662" stroke-width="7.92"/>
<path d="M545,130 Q560,105 600,105 Q645,115 655,160 L650,185 Q630,215 590,215 Q545,205 535,165 Z" stroke-width="11.44"/>
<path d="M570,150 l30,-15 l20,20 l-10,35 l-30,10 z M585,150 l20,25" stroke-width="8.80"/>
<path d="M400,545 L440,512 L470,520 L480,545 L440,576 L410,576 Z" stroke-width="11.44"/>
<path d="M420,545 L445,525 L460,545 L435,565 Z" stroke-width="7.92"/>
<path d="M480,540 L555,585 M475,555 L550,598" stroke-width="9.68"/>
<path d="M520,570 l10,-8 M535,580 l10,-8" stroke-width="8.80"/>
<ellipse cx="590" cy="170" rx="34" ry="44" stroke-width="9" transform="rotate(20 590 170)"/>
<ellipse cx="705" cy="232" rx="36" ry="48" stroke-width="12" transform="rotate(25 705 232)"/><ellipse cx="712" cy="235" rx="20" ry="32" stroke-width="9" transform="rotate(25 712 235)"/>
<ellipse cx="595" cy="612" rx="10" ry="18" stroke-width="10" transform="rotate(25 595 612)"/>
<path d="M775,250 Q760,275 780,305 L860,345 Q885,340 885,310 L800,262 Z" stroke-width="11.44"/>
<path d="M800,262 Q790,285 805,310 L865,340 M815,285 L860,310 L870,330" stroke-width="8.80"/>
</g>
<g transform="translate(380 490) scale(0.14999)">
<path d="M190,300 L190,235 L215,215 L310,165 L325,175 L325,235" stroke-width="16.13"/>
<path d="M150,155 L215,215" stroke-width="6.60"/>
<path d="M285,290 L395,215 L430,215 L435,300 L320,380 L285,365 Z" stroke-width="11.73"/>
<path d="M300,295 L300,368 M300,295 L400,228 L430,215" stroke-width="6.60"/>
<path d="M292,300 l0,60" stroke-width="4.40"/>
<path d="M330,270 l6,-4 M350,258 l6,-4 M380,238 l6,-4" stroke-width="7.33"/>
<path d="M0,415 L190,302 M0,418 L285,355" stroke-width="6.60"/>
<path d="M445,500 L665,375 L700,385 L706,500 L480,652 L445,632 Z" stroke-width="12.47"/>
<path d="M470,512 L665,402 L682,410 L682,490 L490,620 L470,610 Z" stroke-width="8.80"/>
<path d="M455,505 L455,628 M445,632 L455,628" stroke-width="5.87"/>
<path d="M300,440 L520,312 L560,305 L620,345 L622,372" stroke-width="9.53"/>
<path d="M300,440 L310,452 L312,570 L300,575 L300,548 L318,540" stroke-width="8.80"/>
<path d="M312,570 L345,590 L345,560 M300,575 L330,592 L345,590" stroke-width="8.07"/>
<path d="M318,445 L350,462 L530,345 M350,462 L350,572 L420,602 L440,592 L440,520" stroke-width="8.07"/>
<path d="M325,450 L325,540 M335,455 L335,545" stroke-width="7.33"/>
<path d="M370,470 L370,560 L420,585 M370,470 L400,455 L440,470 L440,500" stroke-width="6.60"/>
<path d="M420,440 L470,415 L500,430 L500,470 M455,425 L455,445" stroke-width="6.60"/>
<path d="M480,380 L540,345 L600,375 L545,415 Z" stroke-width="8.80"/>
<path d="M505,385 L540,365 L572,382 L540,402 Z" stroke-width="7.33"/>
<path d="M525,380 l20,10" stroke-width="11.73"/>
<path d="M560,305 L565,330 L600,350 M565,330 L545,340" stroke-width="6.60"/>
<path d="M530,200 L530,380 M545,200 L545,375" stroke-width="8.07"/>
<path d="M500,560 L610,495 L615,470 L505,535 Z" stroke-width="6.60"/>
<path d="M500,520 L500,555" stroke-width="5.87"/>
<path d="M385,115 L465,172 L470,290 L522,322" stroke-width="6.60" stroke-dasharray="26.7 10.0"/>
<path d="M495,522 L620,600" stroke-width="6.60" stroke-dasharray="26.7 10.0 6.7 10.0"/>
<path d="M500,126 L550,100 L580,116 L530,146 Z" stroke-width="8.80"/>
<path d="M528,122 L548,112 L556,118 L536,128 Z" stroke-width="5.87"/>
<path d="M118,548 L215,490 M160,462 L200,482" stroke-width="6.60"/>
<path d="M135,545 l10,-22 M148,540 l10,-24 M161,533 l10,-24 M174,526 l10,-24 M187,518 l10,-22 M200,510 l8,-20" stroke-width="7.33"/>
<path d="M175,620 L272,460 M175,620 L205,522" stroke-width="6.60"/>
<path d="M605,615 Q610,598 640,600 L660,612 Q662,632 640,640 Q615,640 605,615 Z" stroke-width="10.27"/>
<path d="M660,605 L700,608 L716,630 L690,640 L665,632" stroke-width="8.80"/>
<path d="M625,615 l15,10 M680,618 l10,8" stroke-width="8.80"/>
<path d="M720,635 L800,665" stroke-width="6.60"/>
<path d="M840,395 L620,355 M840,395 L706,428" stroke-width="6.60"/>
<path d="M840,548 L706,515" stroke-width="6.60"/>
<path d="M700,232 L560,205" stroke-width="6.60"/>
<path d="M700,232 L545,45" stroke-width="6.60"/>
<ellipse cx="538" cy="182" rx="22" ry="15" stroke-width="9.3"/>
</g>
<g transform="translate(725 415) scale(0.07502)">
<path d="M240,270 Q245,170 320,135 Q400,125 440,190 Q456,250 436,330 L430,356 Q380,376 310,350 Q250,322 240,270 Z" stroke-width="20.53"/>
<path d="M295,292 Q310,210 360,190 Q400,195 405,250 L405,332" stroke-width="16.13"/>
<path d="M360,200 L360,332" stroke-width="16.13"/>
<path d="M412,250 L418,335 M420,255 L426,335" stroke-width="11.73"/>
<path d="M300,300 Q290,320 310,345" stroke-width="13.20"/>
</g>
<g transform="translate(628.3 472.0) scale(0.07502)">
<path d="M240,270 Q245,170 320,135 Q400,125 440,190 Q456,250 436,330 L430,356 Q380,376 310,350 Q250,322 240,270 Z" stroke-width="20.53"/>
<path d="M295,292 Q310,210 360,190 Q400,195 405,250 L405,332" stroke-width="16.13"/>
<path d="M360,200 L360,332" stroke-width="16.13"/>
<path d="M412,250 L418,335 M420,255 L426,335" stroke-width="11.73"/>
<path d="M300,300 Q290,320 310,345" stroke-width="13.20"/>
</g>
<g transform="translate(0 0) scale(1.00000)">
<path d="M744.9,440.9 L738.5,446.5" stroke-width="0.99"/>
</g>
<g transform="translate(460 690) scale(0.12500)">
<path d="M130,205 L150,195 L180,205 L180,385 L135,365 Z" stroke-width="11.44"/>
<path d="M150,195 L150,372" stroke-width="7.92"/>
<path d="M180,205 L250,210 L290,236 L300,400 L265,440 L180,385" stroke-width="11.44"/>
<path d="M190,225 L250,250 L250,290 L195,270 Z M195,350 L255,385 L255,415 L200,385 Z" stroke-width="10.56"/>
<path d="M265,250 L272,420" stroke-width="12.32"/>
<path d="M290,236 L380,280 L545,182" stroke-width="10.56"/>
<path d="M300,400 L562,270" stroke-width="10.56"/>
<path d="M400,292 L572,212" stroke-width="15.84"/>
<path d="M300,290 L330,320 L310,340 M340,300 L380,340 L420,320 L400,300" stroke-width="11.44"/>
<path d="M450,290 l30,-15 M500,300 l25,-30" stroke-width="10.56"/>
<path d="M220,425 L175,515" stroke-width="7.04"/>
</g>
<g transform="translate(270 615) scale(0.10000)">
<path d="M305,270 L375,146 L405,140 L550,225 L556,316 L520,340 L490,330 L360,405 L335,400 L305,350 Z" stroke-width="14.30"/>
<path d="M340,300 L490,240 L550,225 M340,300 L345,398 M490,240 L495,330 M516,255 L520,338" stroke-width="11.00"/>
<path d="M305,270 L340,300 M320,285 L322,355" stroke-width="9.90"/>
<path d="M370,325 l80,-35 M372,345 l80,-35" stroke-width="6.60" stroke-dasharray="10 12.0"/>
<path d="M230,312 L285,305" stroke-width="8.80"/>
</g>
<g transform="translate(0 0) scale(1.00000)">
<path d="M516,643.7 L531.8,643.7" stroke-width="0.88" style="stroke:#444"/>
</g>
<rect x="585.4" y="506.1" width="55.7" height="24.4" rx="5" ry="5" style="stroke:#c9202b;stroke-width:2.8;fill:none"/><line x1="639" y1="506.5" x2="650.5" y2="496.8" style="stroke:#c9202b;stroke-width:3.4"/>
</g>
<g class="t">
<text x="524.6" y="255.8" font-size="11.8" font-weight="bold">02 9009</text>
<text x="439.6" y="267.5" font-size="11.8" font-weight="bold">01 9181</text>
<text x="558.4" y="277.8" font-size="11.8" font-weight="bold">05 6864</text>
<text x="461.8" y="296.9" font-size="11" class="r">02 9006</text>
<text x="430.1" y="316.3" font-size="11.8" font-weight="bold">05 6223</text>
<text x="430.1" y="328.3" font-size="11.8" font-weight="bold">Set</text>
<text x="482.1" y="357.8" font-size="11.8" font-weight="bold">11 9057</text>
<text x="572.1" y="358.0" font-size="11.8" font-weight="bold">02 9401</text>
<text x="410.9" y="388.8" font-size="11.8" font-weight="bold">05 6222</text>
<text x="410.9" y="400.3" font-size="11.8" font-weight="bold">Set</text>
<text x="488.4" y="404.5" font-size="11.8" font-weight="bold">11 9984</text>
<text x="426.5" y="426.9" font-size="11" class="r">05 6820</text>
<text x="426.5" y="439.4" font-size="11" class="r">Set</text>
<text x="660.9" y="268.3" font-size="11.8" font-weight="bold">05 6202</text>
<text x="660.9" y="304.0" font-size="11.8" font-weight="bold">05 6583</text>
<text x="186.6" y="343.3" font-size="11.8" font-weight="bold">05 6218</text>
<text x="206.6" y="365.0" font-size="11.8" font-weight="bold">05 7124</text>
<text x="125.9" y="422.0" font-size="11.8" font-weight="bold">01 9316</text>
<text x="112.1" y="460.8" font-size="11.8" font-weight="bold">20 3977</text>
<text x="333.9" y="345.3" font-size="11.8" font-weight="bold">08 7108</text>
<text x="311.3" y="361.9" font-size="11" class="r">14 0472</text>
<text x="378.8" y="441.9" font-size="11" class="r">06 8584</text>
<text x="460.0" y="441.9" font-size="11" class="r">08 6394</text>
<text x="367.5" y="461.9" font-size="11" class="r">06 6322</text>
<text x="367.5" y="473.7" font-size="11" class="r">Set</text>
<text x="327.0" y="490.9" font-size="11" class="r">06 6323</text>
<text x="327.0" y="503.2" font-size="11" class="r">Set</text>
<text x="327.0" y="518.2" font-size="11" class="r">06 8956</text>
<text x="327.0" y="530.2" font-size="11" class="r">Set</text>
<text x="341.7" y="558.2" font-size="11" class="r">06 6319</text>
<text x="341.7" y="570.4" font-size="11" class="r">Set</text>
<text x="329.8" y="593.7" font-size="11.8" font-weight="bold">08 6391</text>
<text x="377.0" y="511.4" font-size="11" class="r">02 9943</text>
<text x="504.5" y="515.9" font-size="11" class="r">02 9002</text>
<text x="489.5" y="531.8" font-size="11" class="r">02 9945</text>
<text x="506.6" y="551.0" font-size="11" class="r">06 8948</text>
<text x="506.6" y="563.0" font-size="11" class="r">kompl.</text>
<text x="506.6" y="578.0" font-size="11" class="r">08 6396</text>
<text x="508.4" y="597.8" font-size="11" class="r">06 8956</text>
<text x="508.4" y="609.8" font-size="11" class="r">Set</text>
<text x="394.0" y="595.4" font-size="11" class="r">05 6821</text>
<text x="394.0" y="608.0" font-size="11" class="r">Set</text>
<text x="666.6" y="473.3" font-size="11.8" font-weight="bold">27 0140</text>
<text x="727.6" y="457.1" font-size="11.8" font-weight="bold">05 7205</text>
<text x="593.4" y="520.1" font-size="11.8" font-weight="bold">05 7125</text>
<text x="468.1" y="648.3" font-size="11.8" font-weight="bold">20 4187</text>
<text x="728.6" y="719.2" font-size="11.8" font-weight="bold">01 9829</text>
<text x="655.9" y="766.4" font-size="11.8" font-weight="bold">20 4188</text>
<text x="655.9" y="778.3" font-size="11.8" font-weight="bold">Set/grau</text>
<text x="229.4" y="668.2" font-size="11.8" font-weight="bold">11 8987</text>
<text x="213.3" y="697.9" font-size="11" class="r">11 9748</text>
<text x="222.8" y="731.1" font-size="11" class="r">28 3052</text>
<text x="425.0" y="729.7" font-size="11" class="g">11 9753</text>
<text x="441.1" y="762.0" font-size="11.8" font-weight="bold">11 9747</text>
<text x="365.2" y="775.0" font-size="11" class="r">01 3861</text>
<text x="365.2" y="787.0" font-size="11" class="r">Set</text>
<text x="64.6" y="740.0" font-size="11.8" font-weight="bold">08 6389</text>
<text x="255.5" y="407.4" font-size="11" class="m">1)</text>
<text x="298.0" y="426.7" font-size="11" class="m">2)</text>
<text x="298.5" y="444.4" font-size="11" class="m">3)</text>
<text x="43.7" y="507.9" font-size="11" class="m">1)</text>
<text x="43.0" y="531.9" font-size="11" class="m">2)</text>
<text x="43.0" y="552.4" font-size="11" class="m">3)</text>
<text x="281.3" y="649.5" font-size="11.8" font-weight="bold">4)</text>
<text x="207.1" y="714.0" font-size="11.8" font-weight="bold">4)</text>
</g>
</svg>
</body></html>
